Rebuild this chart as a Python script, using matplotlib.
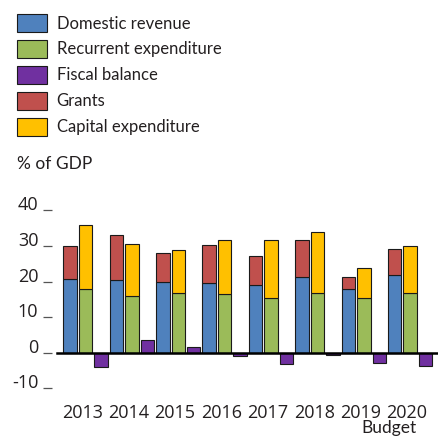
import matplotlib
matplotlib.use("Agg")
import matplotlib.pyplot as plt
import matplotlib.transforms as mtransforms
import numpy as np

# data (% of GDP)
years = ["2013", "2014", "2015", "2016", "2017", "2018", "2019", "2020"]
domestic = [20.8, 20.4, 20.0, 19.7, 18.9, 21.2, 17.8, 21.9]
grants = [9.3, 12.7, 7.9, 10.7, 8.3, 10.4, 3.4, 7.1]
recurrent = [17.8, 15.9, 16.7, 16.4, 15.3, 16.7, 15.3, 16.9]
capital = [18.2, 14.6, 12.2, 15.2, 16.3, 17.1, 8.5, 13.2]
fiscal = [-4.0, 3.7, 1.6, -1.0, -3.3, -0.7, -3.0, -3.7]
yticks = [-10, 0, 10, 20, 30, 40]

C_DOM = "#4F81BD"
C_REC = "#9BBB59"
C_FIS = "#7030A0"
C_GRA = "#C0504D"
C_CAP = "#FFC000"
TXT = "#231f20"
EDGE = "#1a1a1a"

LEG_FONT = "Lato"
TICK_FONT = "Open Sans"

fig = plt.figure(figsize=(4.41, 4.41), dpi=100)
ax = fig.add_axes([0.118, 0.0952, 0.875, 0.444])

x = np.arange(len(years))
w = 0.29
off = 1 / 3
kw = dict(width=w, edgecolor=EDGE, linewidth=0.8, zorder=2)

b_dom = ax.bar(x - off, domestic, color=C_DOM, **kw)
b_gra = ax.bar(x - off, grants, bottom=domestic, color=C_GRA, **kw)
b_rec = ax.bar(x, recurrent, color=C_REC, **kw)
b_cap = ax.bar(x, capital, bottom=recurrent, color=C_CAP, **kw)
b_fis = ax.bar(x + off, fiscal, color=C_FIS, **kw)

ax.axhline(0, xmin=0.013, xmax=1, color="black", lw=1.8, zorder=3)

ax.set_xlim(-0.722, 7.597)
ax.set_ylim(-13, 42)

for s in ax.spines.values():
    s.set_visible(False)

ax.set_yticks(yticks)
ax.set_yticklabels([str(v) for v in yticks], fontsize=13, family=TICK_FONT, color=TXT)
ax.tick_params(axis="y", length=6.5, width=0.9, color="#555555", pad=3.4)
for lbl in ax.get_yticklabels():
    lbl.set_va("baseline")

ax.set_xticks(x - 0.07)
ax.set_xticklabels(years, fontsize=13, family=TICK_FONT, color=TXT)
ax.tick_params(axis="x", length=0, pad=3.5)

trans = mtransforms.blended_transform_factory(ax.transData, fig.transFigure)
ax.text(6.54, 0.018, "Budget", transform=trans, ha="center", va="baseline",
        fontsize=12.5, family=LEG_FONT, color=TXT)

handles = [b_dom, b_rec, b_fis, b_gra, b_cap]
labels = ["Domestic revenue", "Recurrent expenditure", "Fiscal balance",
          "Grants", "Capital expenditure"]
fig.legend(handles, labels, loc="upper left", bbox_to_anchor=(0.0385, 0.968),
           frameon=False, borderpad=0, borderaxespad=0,
           handlelength=1.78, handleheight=1.25,
           handletextpad=0.6, labelspacing=0.5,
           prop={"family": LEG_FONT, "size": 12}, labelcolor=TXT)

fig.text(0.038, 1 - 169 / 441, "% of GDP", fontsize=12.5, family=LEG_FONT,
         color=TXT, va="baseline")

fig.savefig("out.png", dpi=100)
